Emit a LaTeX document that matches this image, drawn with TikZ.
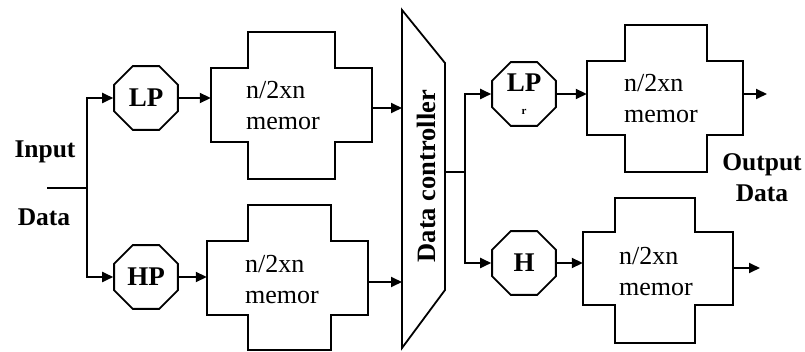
\documentclass[tikz,border=0pt]{standalone}
\usepackage{fontspec}
\setmainfont{Liberation Serif}
\usetikzlibrary{arrows.meta,shapes.geometric}
\begin{document}
\begin{tikzpicture}[x=1pt,y=-1pt,
  ln/.style={line width=1.8pt},
  arr/.style={ln,-{Triangle[length=11pt,width=10pt]}},
  oct/.style={draw,ln,regular polygon,regular polygon sides=8,minimum size=69pt,inner sep=0pt,font=\fontsize{27}{30}\selectfont\bfseries},
  memtxt/.style={align=left,anchor=west,inner sep=0pt,font=\fontsize{26}{31}\selectfont},
  lbl/.style={font=\fontsize{25.5}{28}\selectfont\bfseries,inner sep=0pt},
  hold/.style={draw=none,inner sep=0pt,rectangle}
]
\useasboundingbox (0,0) rectangle (805,352);
% input
\node[lbl] (inlbl) at (45,152) {Input};
\node[lbl] (indata) at (44,217) {Data};
\coordinate (in) at (47,188);
\coordinate (br) at (87,188);
% filters
\node[oct] (lp1) at (146,98) {LP};
\node[oct] (hp1) at (146,277) {HP};
% memory boxes (left)
\node[hold,minimum width=161pt,minimum height=74pt] (m1) at (291.5,105) {};
\node[hold,minimum width=161pt,minimum height=74pt] (m2) at (287.5,278) {};
\draw[ln] (211,68) -- (248,68) -- (248,32) -- (335,32) -- (335,68) -- (372,68) -- (372,142) -- (335,142) -- (335,179) -- (248,179) -- (248,142) -- (211,142) -- cycle;
\draw[ln] (207,241) -- (248,241) -- (248,205) -- (331,205) -- (331,241) -- (368,241) -- (368,315) -- (331,315) -- (331,350) -- (248,350) -- (248,315) -- (207,315) -- cycle;
\node[memtxt] (t1) at (246,106) {n/2xn\\memor};
\node[memtxt] (t2) at (245,280) {n/2xn\\memor};
% data controller
\coordinate (dcTL) at (402,10);
\coordinate (dcTR) at (445,63);
\coordinate (dcBR) at (445,290);
\coordinate (dcBL) at (402,348);
\draw[ln] (dcTL) -- (dcTR) -- (dcBR) -- (dcBL) -- cycle;
\node[lbl,font=\fontsize{26.5}{28}\selectfont\bfseries,rotate=90] (dc) at (426,176) {Data controller};
\coordinate (dc1) at (402,108);
\coordinate (dc2) at (402,282);
\coordinate (dco) at (445,172);
\coordinate (br2) at (465,172);
% right filters
\node[oct,align=center] (lp2) at (524,94) {LP\\[-7pt]{\fontsize{11}{11}\selectfont r}};
\node[oct] (h2) at (524,263) {H};
% memory boxes (right)
\node[hold,minimum width=156pt,minimum height=74pt] (m3) at (665,98) {};
\node[hold,minimum width=150pt,minimum height=73pt] (m4) at (658,268.5) {};
\draw[ln] (587,61) -- (625,61) -- (625,25) -- (707,25) -- (707,61) -- (743,61) -- (743,135) -- (707,135) -- (707,172) -- (625,172) -- (625,135) -- (587,135) -- cycle;
\draw[ln] (583,232) -- (615,232) -- (615,198) -- (695,198) -- (695,232) -- (733,232) -- (733,305) -- (695,305) -- (695,343) -- (615,343) -- (615,305) -- (583,305) -- cycle;
\node[memtxt] (t3) at (624,99) {n/2xn\\memor};
\node[memtxt] (t4) at (619,272) {n/2xn\\memor};
\coordinate (o3) at (767,94);
\coordinate (o4) at (760,268);
\node[lbl] (outlbl) at (762,165) {Output};
\node[lbl] (outdata) at (762,193) {Data};
% connectors
\draw[ln] (in) -- (br);
\draw[arr] (br) |- (lp1.west);
\draw[arr] (br) |- (hp1.west);
\draw[arr] (lp1.east) -- (lp1.east -| m1.west);
\draw[arr] (hp1.east) -- (hp1.east -| m2.west);
\draw[arr] (m1.east |- dc1) -- (dc1);
\draw[arr] (m2.east |- dc2) -- (dc2);
\draw[ln] (dco) -- (br2);
\draw[arr] (br2) |- (lp2.west);
\draw[arr] (br2) |- (h2.west);
\draw[arr] (lp2.east) -- (lp2.east -| m3.west);
\draw[arr] (h2.east) -- (h2.east -| m4.west);
\draw[arr] (m3.east |- o3) -- (o3);
\draw[arr] (m4.east |- o4) -- (o4);
\end{tikzpicture}
\end{document}
